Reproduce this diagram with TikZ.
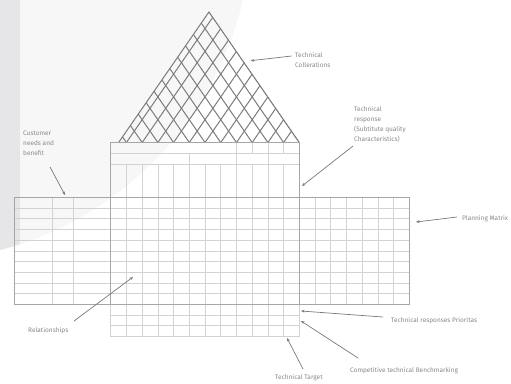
\documentclass[tikz,border=0pt]{standalone}
\usepackage{fontspec}
\setmainfont{Fira Sans}
\usetikzlibrary{arrows.meta}
\definecolor{bgc}{HTML}{F7F7F7}
\definecolor{stripc}{HTML}{E6E6E8}
\definecolor{gridc}{HTML}{D2D2D2}
\definecolor{borderc}{HTML}{A6A6A6}
\definecolor{latc}{HTML}{7C7C7C}
\definecolor{txtc}{HTML}{8A8A8A}
\definecolor{arrc}{HTML}{787878}
\begin{document}
\begin{tikzpicture}[x=1pt,y=-1pt,
  lbl/.style={anchor=north west, inner sep=0pt, align=left, text=txtc, font=\fontsize{6.5}{10}\selectfont},
  arr/.style={draw=arrc, line width=0.7pt, -{Stealth[length=3.5pt,width=2.8pt]}},
  gridln/.style={draw=gridc, line width=0.6pt},
  bordln/.style={draw=borderc, line width=0.7pt},
  latln/.style={draw=latc, line width=1.0pt}]
\useasboundingbox (0,0) rectangle (511,383);
\fill[white] (0,0) rectangle (511,383);
% background shapes
\begin{scope}
  \clip (-85.5,-76) circle[radius=337pt];
  \fill[bgc] (0,0) rectangle (511,383);
  \fill[stripc] (0,0) rectangle (20,383);
\end{scope}
% roof lattice
\begin{scope}
  \clip (118.6,142.5) -- (208.95,12) -- (299.3,142.5) -- cycle;
  \foreach \k in {0,...,13} {
    \pgfmathsetmacro\xk{110.7+15.72*\k}
    \draw[latln] (\xk,142.5) -- ++(100,-145);
    \draw[latln] (\xk,142.5) -- ++(-100,-145);
  }
\end{scope}
\draw[latln] (118.6,142.5) -- (208.95,12) -- (299.3,142.5);
% central grid
\foreach \k in {1,...,11}
  \draw[gridln] ({110.7+15.72*\k},164.3) -- ({110.7+15.72*\k},336.4);
\foreach \k in {8,...,11}
  \draw[gridln] ({110.7+15.72*\k},142.5) -- ({110.7+15.72*\k},153.3);
\foreach \k in {5,8,10}
  \draw[gridln] ({110.7+15.72*\k},153.3) -- ({110.7+15.72*\k},164.3);
\draw[gridln] (110.7,153.3) -- (299.3,153.3);
\draw[gridln] (110.7,164.3) -- (299.3,164.3);
\foreach \j in {1,...,9}
  \draw[gridln] (14,{197.3+10.7*\j}) -- (409,{197.3+10.7*\j});
\foreach \j in {11,12}
  \draw[gridln] (110.7,{197.3+10.7*\j}) -- (299.3,{197.3+10.7*\j});
\draw[gridln] (110.7,304) -- (110.7,336.4) -- (299.3,336.4) -- (299.3,304);
% wings
\foreach \x in {52,73}
  \draw[gridln] (\x,197.3) -- (\x,304);
\foreach \m in {1,...,6}
  \draw[gridln] ({299.3+15.72*\m},197.3) -- ({299.3+15.72*\m},304);
% borders
\draw[bordln] (110.7,142.5) rectangle (299.3,304);
\draw[bordln] (14,197.3) rectangle (409,304);
% labels
\node[lbl] (tc) at (295,52) {Technical\\Collerations};
\node[lbl] (tr) at (354,106) {Technical\\response\\(Subtitute quality\\Characteristics)};
\node[lbl] (pm) at (462,215) {Planning Matrix};
\node[lbl] (cn) at (23,131) {Customer\\needs and\\benefit};
\node[lbl] (rel) at (28,327) {Relationships};
\node[lbl] (trp) at (391,317) {Technical responses Prioritas};
\node[lbl] (ctb) at (350,367) {Competitive technical Benchmarking};
\node[lbl] (tt) at (275,374.5) {Technical Target};
% arrow ends
\coordinate (tcS) at (291.7,56);   \coordinate (tcT) at (250.7,60.7);
\coordinate (trS) at (353,146);    \coordinate (trT) at (302,186);
\coordinate (pmS) at (457,217);    \coordinate (pmT) at (416,222);
\coordinate (cnS) at (50,167);     \coordinate (cnT) at (65,195);
\coordinate (relS) at (74,321);    \coordinate (relT) at (133,277);
\coordinate (trpS) at (383,317);   \coordinate (trpT) at (301,311);
\coordinate (ctbS) at (358,358);   \coordinate (ctbT) at (301,321);
\coordinate (ttS) at (303,369);    \coordinate (ttT) at (287,338);
\draw[arr] (tcS) -- (tcT);
\draw[arr] (trS) -- (trT);
\draw[arr] (pmS) -- (pmT);
\draw[arr] (cnS) -- (cnT);
\draw[arr] (relS) -- (relT);
\draw[arr] (trpS) -- (trpT);
\draw[arr] (ctbS) -- (ctbT);
\draw[arr] (ttS) -- (ttT);
\end{tikzpicture}
\end{document}
